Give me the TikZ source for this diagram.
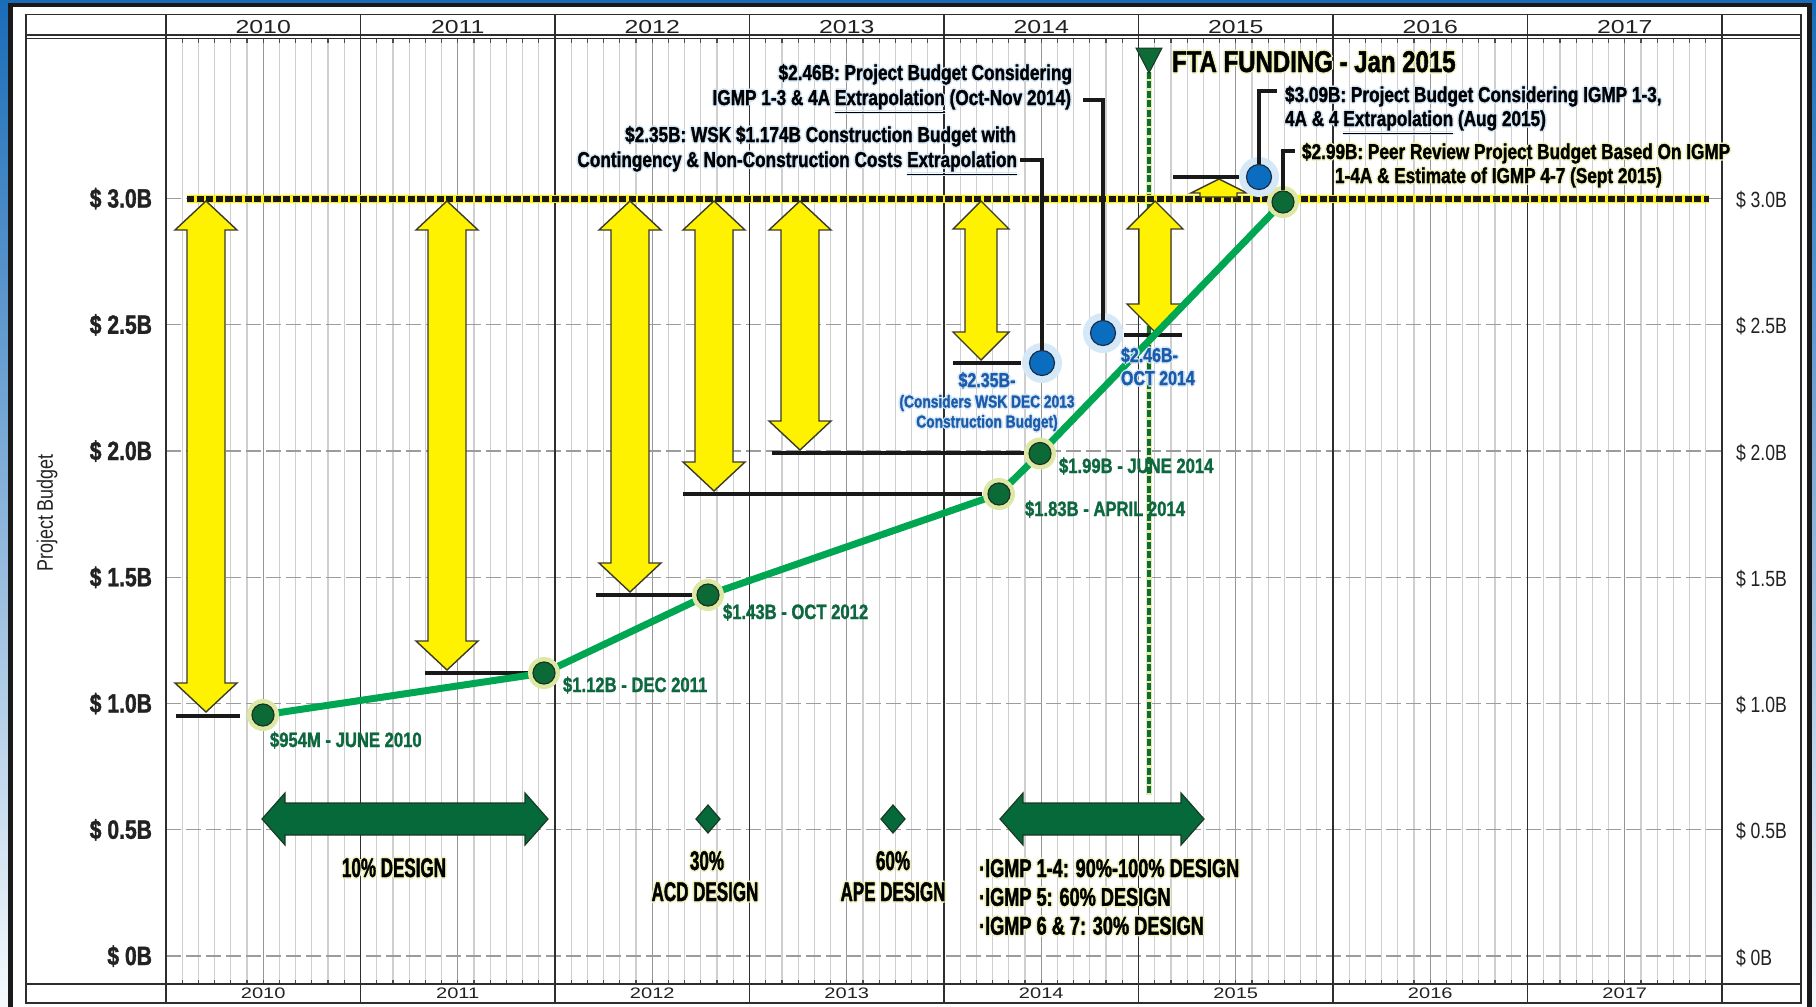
\documentclass[tikz,border=0pt]{standalone}
\usepackage{fontspec}
\setmainfont{Liberation Sans}
\newfontfamily\cnd[FakeStretch=0.8,BoldFeatures={FakeBold=1.3}]{Liberation Sans}
\newfontfamily\cndn[FakeStretch=0.63,BoldFeatures={FakeBold=1.3}]{Liberation Sans}
\newfontfamily\cndm[FakeStretch=0.71,BoldFeatures={FakeBold=1.3}]{Liberation Sans}
\newfontfamily\wide[FakeStretch=1.32]{Liberation Sans}
\definecolor{bgblue}{HTML}{1A6CB8}
\definecolor{gridgray}{HTML}{9C9C9C}
\definecolor{monthgray}{HTML}{CFCFCF}
\definecolor{midgray}{HTML}{969696}
\definecolor{framec}{HTML}{2E2E2E}
\definecolor{yfill}{HTML}{FFF200}
\definecolor{yedge}{HTML}{3A3A2A}
\definecolor{lgreen}{HTML}{00A651}
\definecolor{gdotc}{HTML}{0B6A36}
\definecolor{gedge}{HTML}{1C3324}
\definecolor{ghalo}{HTML}{DCE8A4}
\definecolor{bdotc}{HTML}{0A6DC0}
\definecolor{bedge}{HTML}{1B2E48}
\definecolor{bhalo}{HTML}{D5E8F8}
\definecolor{gtext}{HTML}{0D673F}
\definecolor{btext}{HTML}{1B5BAA}
\definecolor{dgreen}{HTML}{06693A}
\definecolor{dgedge}{HTML}{183A24}
\definecolor{yhalo}{HTML}{EEF1B6}
\definecolor{bthalo}{HTML}{D3E6F7}
\definecolor{axtext}{HTML}{222222}
\definecolor{ftadash}{HTML}{0E6B36}
\definecolor{ftahalo}{HTML}{E2ECB0}
\newcommand\halo[2]{\leavevmode\rlap{\textcolor{#1}{\kern-0.8pt\relax#2}}\rlap{\textcolor{#1}{\kern0.8pt\relax#2}}\rlap{\textcolor{#1}{\raisebox{0.8pt}{#2}}}\rlap{\textcolor{#1}{\raisebox{-0.8pt}{#2}}}#2}
\newcommand\yarrow[5]{\filldraw[yarr] (#1,201) -- ({#1+#4},{201+#5}) -- ({#1+#3},{201+#5}) -- ({#1+#3},{#2-#5}) -- ({#1+#4},{#2-#5}) -- (#1,#2) -- ({#1-#4},{#2-#5}) -- ({#1-#3},{#2-#5}) -- ({#1-#3},{201+#5}) -- ({#1-#4},{201+#5}) -- cycle;}
\newcommand\garrow[3]{\filldraw[darr] (#1,#3) -- ({#1+23},{#3-26}) -- ({#1+23},{#3-16}) -- ({#2-23},{#3-16}) -- ({#2-23},{#3-26}) -- (#2,#3) -- ({#2-23},{#3+26}) -- ({#2-23},{#3+16}) -- ({#1+23},{#3+16}) -- ({#1+23},{#3+26}) -- cycle;}
\tikzset{
  txt/.style={inner sep=0pt, outer sep=0pt},
  ann/.style={txt, text=black, font=\cnd\bfseries\fontsize{10.75}{12}\selectfont},
  fta/.style={txt, text=black, font=\cnd\bfseries\fontsize{15}{16}\selectfont},
  glab/.style={txt, text=gtext, font=\cnd\bfseries\fontsize{10.4}{12}\selectfont, anchor=base west},
  blabs/.style={txt, text=btext, font=\cnd\bfseries\fontsize{8.6}{10}\selectfont, anchor=base},
  blabb/.style={txt, text=btext, font=\cnd\bfseries\fontsize{10}{12}\selectfont},
  dlab/.style={txt, text=black, font=\cndn\bfseries\fontsize{13.5}{15}\selectfont},
  dlabw/.style={txt, text=black, font=\cndm\bfseries\fontsize{12.8}{15}\selectfont},
  laxis/.style={txt, text=axtext, font=\cnd\bfseries\fontsize{13.2}{15}\selectfont, anchor=base east},
  raxis/.style={txt, text=axtext, font=\cnd\fontsize{11}{13}\selectfont, anchor=base west},
  yrtop/.style={txt, text=axtext, font=\wide\fontsize{9.4}{11}\selectfont, anchor=base},
  yrbot/.style={txt, text=axtext, font=\wide\fontsize{7.6}{9}\selectfont, anchor=base},
  mline/.style={draw=monthgray, line width=0.6pt},
  midline/.style={draw=midgray, line width=0.6pt},
  mtick/.style={draw=black!70, line width=0.6pt},
  yrline/.style={draw=framec, line width=0.8pt},
  hgrid/.style={draw=gridgray, line width=0.7pt, dash pattern=on 7.5pt off 2.5pt},
  yarr/.style={fill=yfill, draw=yedge, line width=0.7pt, line join=miter},
  darr/.style={fill=dgreen, draw=dgedge, line width=0.6pt, line join=miter},
  blackbar/.style={draw=black!90, line width=2pt},
  leader/.style={draw=black!90, line width=2pt, line join=miter},
  gline/.style={draw=lgreen, line width=3.5pt, line join=round, line cap=round},
  gdot/.style={circle, inner sep=0pt, minimum size=11pt, fill=gdotc, draw=gedge, line width=0.6pt},
  bdot/.style={circle, inner sep=0pt, minimum size=12.5pt, fill=bdotc, draw=bedge, line width=0.6pt},
}
\begin{document}
\begin{tikzpicture}[x=0.5pt,y=-0.5pt]
\useasboundingbox (0,0) rectangle (1816,1007);
% background and panel
\shade[top color=bgblue, bottom color=bgblue!4] (0,0) rectangle (1816,1007);
\fill[white] (10.5,5) rectangle (1809.5,1007);
\draw[black!90, line width=2.4pt] (10.5,1008) -- (10.5,5) -- (1809.5,5) -- (1809.5,1008);
% month lines
\foreach \k in {0,...,7}{
  \foreach \m in {1,...,11}{
    \draw[mline] ({166+194.5*(\k+\m/12)},38.5) -- ({166+194.5*(\k+\m/12)},984);
    \draw[mtick] ({166+194.5*(\k+\m/12)},38.5) -- ({166+194.5*(\k+\m/12)},42.5);
    \draw[mtick] ({166+194.5*(\k+\m/12)},980) -- ({166+194.5*(\k+\m/12)},984);
  }
  \draw[midline] ({166+194.5*(\k+0.5)},42.5) -- ({166+194.5*(\k+0.5)},980);
}
% horizontal grid
\foreach \v in {0,0.5,1,1.5,2,2.5,3}{
  \draw[hgrid] (166,{956-252.5*\v}) -- (1721,{956-252.5*\v});
}
% frame
\draw[framec, line width=0.8pt] (26,14.5) rectangle (1801,1003);
\draw[framec, line width=0.7pt] (26,35) -- (1801,35);
\draw[framec, line width=0.7pt] (26,38.5) -- (1801,38.5);
\draw[framec, line width=1.4pt] (26,984) -- (1801,984);
\foreach \k in {0,...,8}{
  \draw[yrline] ({166+194.5*\k},14.5) -- ({166+194.5*\k},1003);
}
% year labels
\foreach \yr [count=\i from 0] in {2010,2011,2012,2013,2014,2015,2016,2017}{
  \node[yrtop] (yt\i) at ({166+194.5*(\i+0.5)},33) {\yr};
  \node[yrbot] (yb\i) at ({166+194.5*(\i+0.5)},998) {\yr};
}
% axis labels
\foreach \v/\t [count=\i] in {0/0B,0.5/0.5B,1/1.0B,1.5/1.5B,2/2.0B,2.5/2.5B,3/3.0B}{
  \node[laxis] (la\i) at (152,{956-252.5*\v+9}) {\$ \t};
  \node[raxis] (ra\i) at (1736,{956-252.5*\v+9}) {\$ \t};
}
\node[txt, text=axtext, font=\cnd\fontsize{11.2}{12}\selectfont, rotate=90] (ylab) at (47,513) {Project Budget};
% FTA funding marker
\draw[ftahalo, line width=3pt] (1149,72) -- (1149,795);
\draw[ftadash, line width=1.8pt, dash pattern=on 3.5pt off 1.2pt] (1149,72) -- (1149,795);
\filldraw[fill=ftadash, draw=dgedge, line width=0.5pt] (1136,48) -- (1162,48) -- (1149,73) -- cycle;
% $3.0B line
\draw[yfill, line width=4pt] (187,198.5) -- (1709,198.5);
\draw[black!90, line width=3pt, dash pattern=on 3.6pt off 1.2pt] (187,198.5) -- (1709,198.5);
% yellow arrows
\yarrow{206}{712}{19}{31}{29}
\yarrow{447}{670}{19}{31}{29}
\yarrow{630}{592}{19}{31}{29}
\yarrow{714}{491}{19}{31}{29}
\yarrow{800}{450}{19}{31}{29}
\yarrow{981}{360}{16}{28}{28}
\yarrow{1155}{332}{16}{28}{28}
\filldraw[yarr] (1219,179) -- (1247,193) -- (1237,193) -- (1237,197) -- (1200,197) -- (1200,193) -- (1191,193) -- cycle;
% bars
\draw[blackbar] (176,716) -- (240,716);
\draw[blackbar] (425,673) -- (529,673);
\draw[blackbar] (596,595) -- (695,595);
\draw[blackbar] (683,494) -- (982,494);
\draw[blackbar] (772,453) -- (1031,453);
\draw[blackbar] (953,363) -- (1021,363);
\draw[blackbar] (1124,335) -- (1182,335);
\draw[blackbar] (1173,177) -- (1246,177);
% green budget line
\coordinate (c1) at (263,715);
\coordinate (c2) at (544,673);
\coordinate (c3) at (708,595);
\coordinate (c4) at (999,494);
\coordinate (c5) at (1040,453.5);
\coordinate (c6) at (1283,202);
\draw[gline] (c1) -- (c2) -- (c3) -- (c4) -- (c5) -- (c6);
\foreach \i in {1,...,6}{
  \fill[ghalo] (c\i) circle[radius=8pt];
  \node[gdot] (g\i) at (c\i) {};
}
% blue points
\foreach \n/\px/\py in {1/1042/363, 2/1103/333, 3/1259/177}{
  \fill[bhalo] (\px,\py) circle[radius=10pt];
  \node[bdot] (b\n) at (\px,\py) {};
}
% leaders
\coordinate (k1) at (1020,160);
\coordinate (k2) at (1083,100);
\coordinate (k3) at (1277,91);
\coordinate (k4) at (1295,151);
\draw[leader] (b1.north) |- (k1);
\draw[leader] (b2.north) |- (k2);
\draw[leader] (b3.north) |- (k3);
\draw[leader] (g6.north) |- (k4);
% design arrows and milestones
\garrow{262}{548}{819}
\garrow{1000}{1204}{819}
\filldraw[darr] (708,805) -- (720,819) -- (708,833) -- (696,819) -- cycle;
\filldraw[darr] (893,805) -- (905,819) -- (893,833) -- (881,819) -- cycle;
% annotations
\node[fta, anchor=base west] (fta) at (1172,72) {\halo{yhalo}{FTA FUNDING - Jan 2015}};
\node[ann, anchor=base east] (a1) at (1072,80) {\halo{bthalo}{\$2.46B: Project Budget Considering}};
\node[ann, anchor=base east] (a2) at (1071,105) {\halo{bthalo}{IGMP 1-3 \& 4A \underline{Extrapolation} (Oct-Nov 2014)}};
\node[ann, anchor=base east] (a3) at (1016,142) {\halo{bthalo}{\$2.35B: WSK \$1.174B Construction Budget with}};
\node[ann, anchor=base east] (a4) at (1017,167) {\halo{bthalo}{Contingency \& Non-Construction Costs \underline{Extrapolation}}};
\node[ann, anchor=base west] (a5) at (1285,102) {\halo{bthalo}{\$3.09B: Project Budget Considering IGMP 1-3,}};
\node[ann, anchor=base west] (a6) at (1285,126) {\halo{bthalo}{4A \& 4 \underline{Extrapolation} (Aug 2015)}};
\node[ann, anchor=base west] (a7) at (1302,159) {\halo{yhalo}{\$2.99B: Peer Review Project Budget Based On IGMP}};
\node[ann, anchor=base west] (a8) at (1335,183) {\halo{yhalo}{1-4A \& Estimate of IGMP 4-7 (Sept 2015)}};
% green labels
\node[glab] (gl1) at (270,747) {\$954M - JUNE 2010};
\node[glab] (gl2) at (563,692) {\$1.12B - DEC 2011};
\node[glab] (gl3) at (723,619) {\$1.43B - OCT 2012};
\node[glab] (gl4) at (1025,516) {\$1.83B - APRIL 2014};
\node[glab] (gl5) at (1059,473) {\$1.99B - JUNE 2014};
% blue labels
\node[blabb, anchor=base] (bl1) at (987,387) {\halo{bthalo}{\$2.35B-}};
\node[blabs] (bl2) at (987,407.5) {\halo{bthalo}{(Considers WSK DEC 2013}};
\node[blabs] (bl3) at (987,427.5) {\halo{bthalo}{Construction Budget)}};
\node[blabb, anchor=base west] (bl4) at (1121,362) {\halo{bthalo}{\$2.46B-}};
\node[blabb, anchor=base west] (bl5) at (1121,385) {\halo{bthalo}{OCT 2014}};
% design labels
\node[dlab, anchor=base] (d1) at (394,877) {\halo{yhalo}{10\% DESIGN}};
\node[dlab, anchor=base] (d2) at (707,870) {\halo{yhalo}{30\%}};
\node[dlab, anchor=base] (d3) at (705,901) {\halo{yhalo}{ACD DESIGN}};
\node[dlab, anchor=base] (d4) at (893,870) {\halo{yhalo}{60\%}};
\node[dlab, anchor=base] (d5) at (893,901) {\halo{yhalo}{APE DESIGN}};
\node[dlabw, anchor=base west] (d6) at (979,877) {\halo{yhalo}{·IGMP 1-4: 90\%-100\% DESIGN}};
\node[dlabw, anchor=base west] (d7) at (979,905.8) {\halo{yhalo}{·IGMP 5: 60\% DESIGN}};
\node[dlabw, anchor=base west] (d8) at (979,934.6) {\halo{yhalo}{·IGMP 6 \& 7: 30\% DESIGN}};
\end{tikzpicture}
\end{document}
